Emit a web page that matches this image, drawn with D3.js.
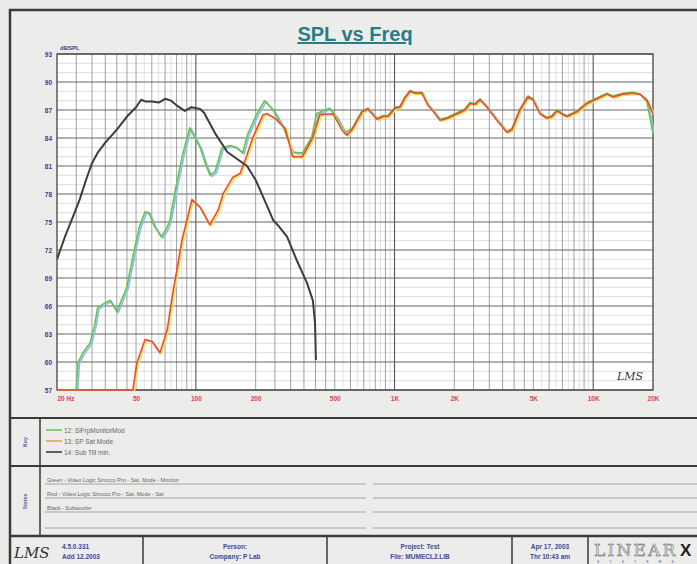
<!DOCTYPE html>
<html>
<head>
<meta charset="utf-8">
<script src="https://cdn.jsdelivr.net/npm/d3@7"></script>
<style>
  html, body { margin: 0; padding: 0; background: #ebebea; }
  svg { display: block; font-family: Arial, "Liberation Sans", sans-serif; }
</style>
</head>
<body>
<div id="container"></div>
<script>
/* DATA */
const freqTicks = [20, 50, 100, 200, 500, 1000, 2000, 5000, 10000, 20000]
const freqLabels = ["20 Hz", "50", "100", "200", "500", "1K", "2K", "5K", "10K", "20K"]
const dbTicks = [93, 90, 87, 84, 81, 78, 75, 72, 69, 66, 63, 60, 57]

// 12: green
const greenFreq = [20, 25, 25.5, 27, 29.3, 31, 32, 34, 37, 40, 42, 44.9, 48.2, 52, 55.5, 58, 62, 67, 71, 74, 78.8, 85.3, 93.2, 99, 105, 112, 118, 125, 135, 148, 160, 172, 183, 203, 222, 245, 275, 307, 344, 383, 405, 470, 513, 563, 610, 686, 735, 779, 816, 874, 926, 1005, 1064, 1128, 1195, 1267, 1374, 1473, 1561, 1692, 1836, 2062, 2262, 2396, 2540, 2692, 2918, 3276, 3680, 3900, 4276, 4692, 4972, 5394, 5848, 6196, 6568, 7040, 7374, 8280, 9296, 10438, 11722, 12566, 14110, 15842, 17180, 18636, 20000]
const greenDb = [57, 57, 59.9, 61.0, 62.0, 64.0, 65.8, 66.2, 66.6, 65.4, 66.5, 68.0, 71.3, 74.5, 76.1, 76.0, 74.5, 73.4, 74.2, 75.2, 78.4, 82.0, 85.1, 84.0, 83.0, 81.2, 80.0, 80.4, 82.9, 83.2, 83.0, 82.4, 84.5, 86.6, 88.0, 87.0, 85.2, 82.5, 82.4, 84.1, 86.6, 87.2, 86.2, 84.6, 85.0, 86.9, 87.2, 86.6, 86.1, 86.4, 86.4, 87.3, 87.4, 88.4, 89.1, 88.9, 88.9, 87.6, 87.0, 86.0, 86.2, 86.7, 87.1, 87.8, 87.7, 88.2, 87.4, 86.0, 84.7, 85.0, 87.1, 88.5, 88.2, 86.7, 86.2, 86.4, 87.0, 86.6, 86.4, 86.9, 87.8, 88.3, 88.8, 88.5, 88.8, 88.9, 88.7, 87.9, 84.5]

// 13: red (yellow shadow)
const redFreq = [20, 48.2, 50.5, 55.5, 60.2, 66, 71.7, 76.6, 85.3, 95.6, 105, 117.6, 129.6, 137.6, 153.7, 167, 177, 194, 218, 228, 251, 282, 307, 344, 388, 421, 490, 550, 576, 610, 686, 735, 779, 816, 874, 926, 1005, 1064, 1128, 1195, 1267, 1374, 1473, 1561, 1692, 1836, 2062, 2262, 2396, 2540, 2692, 2918, 3276, 3680, 3900, 4276, 4692, 4972, 5394, 5848, 6196, 6568, 7040, 7374, 8280, 9296, 10438, 11722, 12566, 14110, 15842, 17180, 18636, 20000]
const redDb = [57, 57, 59.9, 62.4, 62.2, 61.0, 63.4, 67.4, 73.1, 77.4, 76.6, 74.7, 76.3, 78.1, 79.8, 80.2, 81.6, 84.1, 86.5, 86.6, 86.1, 85.0, 82.0, 82.0, 84.1, 86.5, 86.6, 84.7, 84.3, 84.9, 86.8, 87.1, 86.5, 86.0, 86.3, 86.3, 87.2, 87.3, 88.3, 89.0, 88.8, 88.8, 87.5, 86.9, 85.9, 86.1, 86.6, 87.0, 87.7, 87.6, 88.1, 87.3, 85.9, 84.6, 84.9, 87.0, 88.4, 88.1, 86.6, 86.1, 86.3, 86.9, 86.5, 86.3, 86.8, 87.7, 88.2, 88.7, 88.4, 88.7, 88.8, 88.7, 88.1, 86.6]

// 14: black sub
const subFreq = [20, 22, 24, 26, 28, 30, 32, 35, 40, 45, 50, 53, 56, 60, 65, 70, 75, 80, 88, 95, 105, 110, 125, 144, 160, 181, 200, 218, 245, 260, 288, 322, 362, 388, 398, 402]
const subDb = [71.0, 73.5, 75.5, 77.4, 79.5, 81.3, 82.4, 83.5, 84.9, 86.3, 87.3, 88.1, 87.9, 87.9, 87.8, 88.2, 88.0, 87.5, 86.9, 87.3, 87.1, 86.7, 84.5, 82.5, 81.8, 81.0, 79.5, 77.7, 75.2, 74.6, 73.4, 70.9, 68.5, 66.6, 64.2, 60.2]

const legendItems = ["12: SiFrpMonitorMod", "13: SP Sat Mode", "14: Sub Till min."]
const notes = ["Green - Video Logic Sirocco Pro - Sat. Mode - Monitor", "Red - Video Logic Sirocco Pro - Sat. Mode - Sat", "Black - Subwoofer"]

/* SETUP */
const W = 697, H = 564
const plot = {left: 57, right: 653, top: 54, bottom: 390}

const svg = d3.select("#container")
  .append("svg")
    .attr("width", W)
    .attr("height", H)

// page frame
svg.append("rect")
  .attr("x", 10).attr("y", 10)
  .attr("width", W + 10).attr("height", H + 10)
  .attr("fill", "#ececeb")
  .attr("stroke", "#3a3a3a")
  .attr("stroke-width", 2.5)

// SCALES
const xScale = d3.scaleLog()
  .domain([20, 20000])
  .range([plot.left, plot.right])

const yScale = d3.scaleLinear()
  .domain([57, 93])
  .range([plot.bottom, plot.top])

svg.append("rect")
  .attr("x", plot.left).attr("y", plot.top)
  .attr("width", plot.right - plot.left)
  .attr("height", plot.bottom - plot.top)
  .attr("fill", "#fff")

// GRID
const grid = svg.append("g")
// 1 dB minor lines
grid.selectAll(".hmin")
  .data(d3.range(57, 94, 1))
  .join("line")
    .attr("x1", plot.left).attr("x2", plot.right)
    .attr("y1", d => yScale(d)).attr("y2", d => yScale(d))
    .attr("stroke", "#c8c8c8").attr("stroke-width", 0.6)

// vertical lines on each decade
const vLight = [], vDark = []
;[10, 100, 1000, 10000].forEach(dec => {
  [5.5, 6.5, 7.5, 8.5, 9.5].forEach(m => vLight.push(m * dec))
  ;[2, 2.5, 3, 3.5, 4, 4.5, 5, 6, 7, 8, 9, 10].forEach(m => vDark.push(m * dec))
})
grid.selectAll(".vl")
  .data(vLight.filter(f => f > 20 && f < 20000))
  .join("line")
    .attr("x1", d => xScale(d)).attr("x2", d => xScale(d))
    .attr("y1", plot.top).attr("y2", plot.bottom)
    .attr("stroke", "#cfcfcf").attr("stroke-width", 0.6)
grid.selectAll(".vd")
  .data(vDark.filter(f => f > 20 && f < 20000))
  .join("line")
    .attr("x1", d => xScale(d)).attr("x2", d => xScale(d))
    .attr("y1", plot.top).attr("y2", plot.bottom)
    .attr("stroke", d => [100, 1000, 10000].includes(d) ? "#555" : "#8a8a8a")
    .attr("stroke-width", d => [100, 1000, 10000].includes(d) ? 1.1 : 0.8)

// 3 dB major lines
grid.selectAll(".hmaj")
  .data(dbTicks)
  .join("line")
    .attr("x1", plot.left).attr("x2", plot.right)
    .attr("y1", d => yScale(d)).attr("y2", d => yScale(d))
    .attr("stroke", "#666").attr("stroke-width", 0.9)

svg.append("rect")
  .attr("x", plot.left).attr("y", plot.top)
  .attr("width", plot.right - plot.left)
  .attr("height", plot.bottom - plot.top)
  .attr("fill", "none")
  .attr("stroke", "#444")
  .attr("stroke-width", 1.3)

// AXES (labels only, the grid is drawn above)
const yAxis = svg.append("g")
  .attr("transform", "translate(" + plot.left + ",0)")
  .call(d3.axisLeft(yScale).tickValues(dbTicks).tickSize(0).tickPadding(5))
yAxis.select(".domain").remove()
yAxis.selectAll("text")
  .style("font-size", "6.5px").style("font-weight", "bold").attr("fill", "#3b3f86")

const xAxis = svg.append("g")
  .attr("transform", "translate(0," + plot.bottom + ")")
  .call(d3.axisBottom(xScale).tickValues(freqTicks).tickSize(0).tickPadding(6)
    .tickFormat((d, i) => freqLabels[i]))
xAxis.select(".domain").remove()
xAxis.selectAll("text")
  .style("font-size", "6.5px").style("font-weight", "bold")
  .attr("fill", "#e2414f")
  .attr("text-anchor", (d, i) => i === 0 ? "start" : "middle")

svg.append("text")
  .attr("x", plot.left + 3).attr("y", plot.top - 4)
  .style("font-size", "6px").style("font-weight", "bold")
  .attr("fill", "#3b3f86")
  .text("dBSPL")

// TITLE
svg.append("text")
  .attr("x", 355).attr("y", 41)
  .attr("text-anchor", "middle")
  .style("font-size", "20px").style("font-weight", "bold")
  .style("text-decoration", "underline")
  .attr("fill", "#2c7c86")
  .text("SPL vs Freq")

// CURVES
svg.append("clipPath").attr("id", "clip")
  .append("rect")
  .attr("x", plot.left).attr("y", plot.top - 1)
  .attr("width", plot.right - plot.left + 1).attr("height", plot.bottom - plot.top + 2)

const line = d3.line()
  .x(d => xScale(d[0]))
  .y(d => yScale(d[1]))

const zip = (a, b) => a.map((v, i) => [v, b[i]])
const curves = svg.append("g").attr("clip-path", "url(#clip)")

function drawCurve(data, color, shadow, width) {
  if (shadow) {
    curves.append("path").datum(data)
      .attr("fill", "none").attr("stroke", shadow).attr("stroke-width", width)
      .attr("stroke-linejoin", "round")
      .attr("transform", "translate(1.5,1.2)")
      .attr("d", line)
  }
  curves.append("path").datum(data)
    .attr("fill", "none").attr("stroke", color).attr("stroke-width", width)
    .attr("stroke-linejoin", "round")
    .attr("d", line)
}
drawCurve(zip(greenFreq, greenDb), "#6cc04a", "#7fc4e6", 1.6)
drawCurve(zip(redFreq, redDb), "#ea4a3c", "#f5e04a", 1.6)
drawCurve(zip(subFreq, subDb), "#3c3c3c", null, 2)

// LMS mark in plot
svg.append("text")
  .attr("x", 617).attr("y", 380)
  .style("font-family", "'DejaVu Serif', serif")
  .style("font-style", "italic")
  .style("font-size", "11px")
  .attr("fill", "#333")
  .text("LMS")

// LOWER SECTIONS
const rule = (x1, y1, x2, y2, w, c) => svg.append("line")
  .attr("x1", x1).attr("y1", y1).attr("x2", x2).attr("y2", y2)
  .attr("stroke", c || "#3a3a3a").attr("stroke-width", w)

rule(10, 418, W, 418, 2)
rule(10, 466, W, 466, 2)
rule(10, 536, W, 536, 2.5)
rule(40, 418, 40, 536, 1.5)
;[143, 327, 512, 588].forEach(x => rule(x, 536, x, H, 1.5))

// side labels
;[["Key", 442], ["Notes", 501]].forEach(([t, y]) => {
  svg.append("text")
    .attr("transform", "translate(27," + y + ") rotate(-90)")
    .attr("text-anchor", "middle")
    .style("font-size", "5.5px").style("font-weight", "bold")
    .attr("fill", "#5566aa")
    .text(t)
})

// legend
const legendColors = ["#7cc35a", "#f0a23c", "#3c3c3c"]
const lg = svg.selectAll(".leg")
  .data(legendItems)
  .join("g")
    .attr("transform", (d, i) => "translate(46," + (430 + i * 11) + ")")
lg.append("line")
  .attr("x1", 0).attr("x2", 16)
  .attr("stroke", (d, i) => legendColors[i]).attr("stroke-width", 1.6)
lg.append("text")
  .attr("x", 18).attr("y", 2.5)
  .style("font-size", "6.5px")
  .attr("fill", "#666")
  .text(d => d)

// notes
const rows = [484, 498, 512, 528]
rows.forEach((y, i) => {
  rule(45, y, 366, y, 0.7, "#888")
  rule(373, y, W, y, 0.7, "#888")
  if (notes[i]) {
    svg.append("text")
      .attr("x", 47).attr("y", y - 2)
      .style("font-size", "5.5px")
      .attr("fill", "#666")
      .text(notes[i])
  }
})

// footer
svg.append("text")
  .attr("x", 14).attr("y", 558)
  .style("font-family", "'DejaVu Serif', serif")
  .style("font-style", "italic")
  .style("font-size", "15px")
  .attr("fill", "#333")
  .text("LMS")

const footer = [
  [62, "start", "4.5.0.331", "Add 12.2003"],
  [235, "middle", "Person:", "Company: P Lab"],
  [420, "middle", "Project: Test", "File: MUMECL2.LIB"],
  [550, "middle", "Apr 17, 2003", "Thr 10:43 am"]
]
footer.forEach(([x, anchor, a, b]) => {
  svg.append("text").attr("x", x).attr("y", 549).attr("text-anchor", anchor)
    .style("font-size", "6.5px").style("font-weight", "bold").attr("fill", "#3b4a9a").text(a)
  svg.append("text").attr("x", x).attr("y", 559).attr("text-anchor", anchor)
    .style("font-size", "6.5px").style("font-weight", "bold").attr("fill", "#3b4a9a").text(b)
})

svg.append("text")
  .attr("x", 594).attr("y", 556)
  .style("font-family", "'DejaVu Serif', serif")
  .style("font-size", "17px")
  .style("letter-spacing", "2.2px")
  .attr("fill", "none").attr("stroke", "#777").attr("stroke-width", 0.6)
  .text("LINEAR")
svg.append("text")
  .attr("x", 680).attr("y", 556)
  .style("font-size", "17px").style("font-weight", "bold")
  .attr("fill", "#222")
  .text("X")
svg.append("text")
  .attr("x", 597).attr("y", 563)
  .style("font-size", "3.5px")
  .style("letter-spacing", "10px")
  .attr("fill", "#4b5aa8")
  .text("SYSTEMS")
</script>
</body>
</html>
